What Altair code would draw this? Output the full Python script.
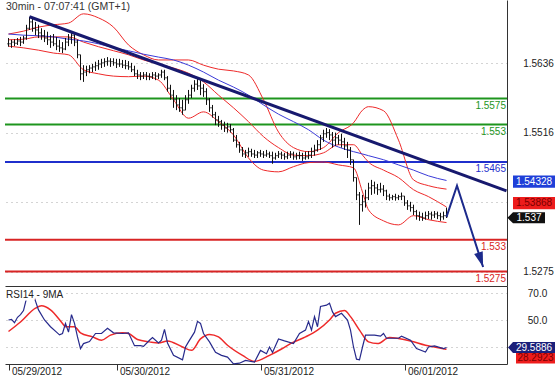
import altair as alt
import pandas as pd

# ---------------- price bars (30 min, bar index) ----------------
highs = [1.5680, 1.5677, 1.5678, 1.5680, 1.5682, 1.5684, 1.5703, 1.5717, 1.5713, 1.5708,
         1.5703, 1.5697, 1.5694, 1.5691, 1.5685, 1.5687, 1.5682, 1.5677, 1.5673, 1.5680,
         1.5687, 1.5692, 1.5689, 1.5677, 1.5651, 1.5633, 1.5632, 1.5633, 1.5635, 1.5639,
         1.5642, 1.5644, 1.5645, 1.5647, 1.5645, 1.5645, 1.5644, 1.5644, 1.5642, 1.5642,
         1.5640, 1.5637, 1.5632, 1.5625, 1.5621, 1.5621, 1.5621, 1.5619, 1.5621, 1.5621,
         1.5619, 1.5625, 1.5625, 1.5614, 1.5599, 1.5590, 1.5581, 1.5576, 1.5573, 1.5581,
         1.5590, 1.5599, 1.5607, 1.5611, 1.5607, 1.5600, 1.5593, 1.5576, 1.5564, 1.5552,
         1.5545, 1.5538, 1.5535, 1.5533, 1.5531, 1.5524, 1.5512, 1.5500, 1.5491, 1.5486,
         1.5490, 1.5488, 1.5486, 1.5484, 1.5486, 1.5484, 1.5486, 1.5483, 1.5483, 1.5481,
         1.5484, 1.5483, 1.5481, 1.5483, 1.5484, 1.5483, 1.5481, 1.5483, 1.5481, 1.5483,
         1.5484, 1.5490, 1.5495, 1.5503, 1.5512, 1.5521, 1.5524, 1.5522, 1.5517, 1.5516,
         1.5512, 1.5514, 1.5507, 1.5500, 1.5491, 1.5469, 1.5438, 1.5413, 1.5408, 1.5417,
         1.5429, 1.5434, 1.5431, 1.5427, 1.5429, 1.5425, 1.5417, 1.5410, 1.5408, 1.5410,
         1.5408, 1.5412, 1.5406, 1.5399, 1.5396, 1.5391, 1.5382, 1.5379, 1.5377, 1.5379,
         1.5380, 1.5379, 1.5380, 1.5379, 1.5377, 1.5379, 1.5386]
lows = [1.5665, 1.5663, 1.5666, 1.5668, 1.5666, 1.5670, 1.5677, 1.5694, 1.5691, 1.5685,
        1.5680, 1.5677, 1.5673, 1.5668, 1.5663, 1.5666, 1.5659, 1.5656, 1.5654, 1.5659,
        1.5666, 1.5670, 1.5666, 1.5645, 1.5607, 1.5604, 1.5614, 1.5619, 1.5621, 1.5623,
        1.5625, 1.5628, 1.5630, 1.5632, 1.5630, 1.5632, 1.5628, 1.5630, 1.5628, 1.5626,
        1.5625, 1.5621, 1.5614, 1.5609, 1.5607, 1.5609, 1.5607, 1.5607, 1.5609, 1.5607,
        1.5609, 1.5611, 1.5607, 1.5587, 1.5573, 1.5559, 1.5555, 1.5552, 1.5547, 1.5555,
        1.5566, 1.5576, 1.5587, 1.5590, 1.5581, 1.5578, 1.5564, 1.5552, 1.5542, 1.5529,
        1.5526, 1.5521, 1.5517, 1.5516, 1.5516, 1.5500, 1.5490, 1.5481, 1.5474, 1.5472,
        1.5474, 1.5474, 1.5472, 1.5472, 1.5474, 1.5472, 1.5474, 1.5472, 1.5462, 1.5469,
        1.5472, 1.5470, 1.5469, 1.5470, 1.5472, 1.5469, 1.5469, 1.5470, 1.5467, 1.5469,
        1.5470, 1.5472, 1.5476, 1.5483, 1.5486, 1.5500, 1.5507, 1.5503, 1.5490, 1.5493,
        1.5495, 1.5490, 1.5486, 1.5472, 1.5460, 1.5431, 1.5399, 1.5356, 1.5379, 1.5386,
        1.5399, 1.5408, 1.5410, 1.5408, 1.5412, 1.5406, 1.5399, 1.5398, 1.5399, 1.5398,
        1.5399, 1.5399, 1.5389, 1.5382, 1.5379, 1.5373, 1.5365, 1.5363, 1.5363, 1.5365,
        1.5366, 1.5365, 1.5368, 1.5366, 1.5363, 1.5365, 1.5368]
closes = [1.5670, 1.5673, 1.5671, 1.5675, 1.5673, 1.5680, 1.5697, 1.5708, 1.5697, 1.5694,
          1.5689, 1.5684, 1.5680, 1.5677, 1.5673, 1.5670, 1.5666, 1.5663, 1.5661, 1.5673,
          1.5680, 1.5685, 1.5673, 1.5651, 1.5618, 1.5621, 1.5625, 1.5628, 1.5630, 1.5632,
          1.5635, 1.5637, 1.5639, 1.5640, 1.5639, 1.5637, 1.5635, 1.5635, 1.5633, 1.5632,
          1.5630, 1.5625, 1.5618, 1.5616, 1.5614, 1.5616, 1.5614, 1.5613, 1.5616, 1.5614,
          1.5616, 1.5621, 1.5611, 1.5593, 1.5581, 1.5573, 1.5564, 1.5559, 1.5555, 1.5573,
          1.5581, 1.5593, 1.5600, 1.5597, 1.5593, 1.5587, 1.5573, 1.5559, 1.5547, 1.5538,
          1.5535, 1.5529, 1.5524, 1.5526, 1.5521, 1.5503, 1.5495, 1.5486, 1.5479, 1.5481,
          1.5483, 1.5479, 1.5477, 1.5481, 1.5479, 1.5477, 1.5479, 1.5476, 1.5472, 1.5476,
          1.5479, 1.5477, 1.5474, 1.5477, 1.5479, 1.5474, 1.5476, 1.5476, 1.5472, 1.5474,
          1.5477, 1.5483, 1.5486, 1.5495, 1.5507, 1.5514, 1.5516, 1.5512, 1.5503, 1.5507,
          1.5503, 1.5500, 1.5493, 1.5486, 1.5469, 1.5438, 1.5408, 1.5391, 1.5396, 1.5403,
          1.5420, 1.5424, 1.5420, 1.5417, 1.5418, 1.5415, 1.5406, 1.5403, 1.5405, 1.5403,
          1.5405, 1.5406, 1.5394, 1.5389, 1.5386, 1.5379, 1.5372, 1.5370, 1.5368, 1.5372,
          1.5375, 1.5373, 1.5375, 1.5372, 1.5370, 1.5372, 1.5370]

# ---------------- indicators on the price panel ----------------
band_idx = [0, 5, 10, 15, 20, 25, 30, 35, 40, 45, 50, 55, 60, 65, 70, 75, 80, 85, 90, 95,
            100, 105, 110, 115, 118, 120, 125, 130, 135, 140, 146]
bb_upper = [1.5687, 1.5692, 1.5699, 1.5703, 1.5706, 1.5722, 1.5715, 1.5699, 1.5668, 1.5651,
            1.5642, 1.5642, 1.5642, 1.5633, 1.5626, 1.5623, 1.5616, 1.5573, 1.5517, 1.5490,
            1.5483, 1.5490, 1.5516, 1.5533, 1.5555, 1.5561, 1.5554, 1.5503, 1.5434, 1.5424,
            1.5418]
bb_middle = [1.5677, 1.5678, 1.5682, 1.5682, 1.5682, 1.5673, 1.5665, 1.5658, 1.5651, 1.5642,
             1.5635, 1.5628, 1.5619, 1.5604, 1.5581, 1.5559, 1.5535, 1.5509, 1.5490, 1.5477,
             1.5476, 1.5481, 1.5495, 1.5495, 1.5477, 1.5465, 1.5451, 1.5438, 1.5417, 1.5405,
             1.5387]
bb_lower = [1.5666, 1.5663, 1.5659, 1.5654, 1.5651, 1.5625, 1.5618, 1.5614, 1.5613, 1.5614,
            1.5607, 1.5573, 1.5541, 1.5552, 1.5535, 1.5512, 1.5472, 1.5451, 1.5448, 1.5457,
            1.5464, 1.5465, 1.5460, 1.5455, 1.5413, 1.5382, 1.5363, 1.5356, 1.5372, 1.5365,
            1.5360]
ma_blue = [1.5687, 1.5685, 1.5684, 1.5682, 1.5678, 1.5675, 1.5670, 1.5663, 1.5658, 1.5652,
           1.5647, 1.5642, 1.5633, 1.5621, 1.5607, 1.5595, 1.5581, 1.5564, 1.5548, 1.5535,
           1.5521, 1.5503, 1.5491, 1.5483, 1.5479, 1.5476, 1.5469, 1.5460, 1.5451, 1.5441,
           1.5433]

level_values = [1.5575, 1.5530, 1.5465, 1.5330, 1.5275]
level_labels = ["1.5575", "1.553", "1.5465", "1.533", "1.5275"]
level_colors = ["#1e951e", "#1e951e", "#1f2fcc", "#d82424", "#d82424"]

trend_idx = [7, 166]
trend_val = [1.5717, 1.5415]

arrow_idx = [146, 149.5, 158.2]
arrow_val = [1.5370, 1.5424, 1.5283]

price_ticks = [1.5636, 1.5516, 1.5396, 1.5275]
price_hidden_tick = 1.5396   # label covered by the red tag in the reference

# ---------------- RSI panel ----------------
rsi_idx = [0, 1, 2, 3, 4, 5, 6, 7, 8, 9, 10, 12, 14, 16, 17, 18, 19, 20, 21, 22,
           23, 24, 25, 27, 29, 31, 33, 35, 38, 40, 42, 44, 45, 47, 48, 50, 51, 52, 53, 55,
           58, 59, 60, 62, 63, 64, 65, 67, 69, 71, 73, 75, 77, 79, 82, 84, 86, 87, 88, 90,
           92, 95, 97, 99, 100, 101, 102, 103, 104, 106, 107, 108, 109, 111, 113, 114, 115,
           116, 117, 118, 119, 122, 124, 125, 126, 130, 131, 134, 136, 139, 140, 142, 145, 146]
rsi_val = [50, 50.5, 48, 52, 54, 57, 66, 72, 71, 64, 57.5, 50, 45, 41, 39, 40, 47.5, 41, 54, 47.5,
           37.5, 28.8, 32.5, 34, 40, 40, 43.8, 40.5, 40, 40.5, 31, 31, 30.5, 35, 37, 33, 35, 43, 33, 23.8,
           20.5, 30, 33.8, 41, 49, 47.5, 40, 33.8, 26, 23.8, 22.5, 17.5, 18, 20, 18.8, 27.5, 25, 30, 26, 36,
           34.5, 32.5, 40, 42.5, 48.8, 42.5, 52.5, 45, 60, 61, 62.5, 56, 52.5, 55, 50, 42.5, 30,
           21, 20.5, 30, 38.8, 38.8, 38, 40, 36.5, 36.5, 38, 35, 28.8, 26.3, 30, 30.8, 28.8, 29.6]
rsi_ma_idx = [0, 4, 9, 11, 14, 18, 19, 22, 24, 28, 31, 34, 38, 40, 43, 47, 50, 53, 58, 61,
              64, 67, 70, 73, 78, 82, 87, 91, 94, 99, 103, 107, 109, 112, 114, 117, 120, 123,
              127, 130, 134, 139, 142, 146]
rsi_ma_val = [41.5, 48.5, 58.8, 60.5, 57.5, 47.5, 45, 45, 40.5, 37.5, 35, 38.8, 40.5, 40, 35.5,
              33.8, 33, 34.5, 30, 27.5, 36, 39.3, 37.5, 31.3, 23.8, 19.3, 23.8, 28.5, 32.5, 37.5,
              42.5, 50, 55, 57, 52.5, 42.5, 33.8, 32.5, 37, 36.3, 34.5, 31.3, 30, 28.3]
rsi_ticks = [70, 50, 30]
rsi_hidden_tick = 30          # label covered by the RSI tag in the reference

date_ticks = [0, 36, 84, 132]
date_labels = ["05/29/2012", "05/30/2012", "05/31/2012", "06/01/2012"]

FONT = "Liberation Sans"
W, H1, H2 = 502, 286, 78

# ---------------- tables ----------------
opens = [closes[0]] + closes[:-1]
bars = pd.DataFrame({"i": list(range(len(closes))), "high": highs, "low": lows,
                     "open": opens, "close": closes})
bands = pd.concat([
    pd.DataFrame({"i": band_idx, "v": bb_upper, "band": "upper"}),
    pd.DataFrame({"i": band_idx, "v": bb_middle, "band": "middle"}),
    pd.DataFrame({"i": band_idx, "v": bb_lower, "band": "lower"}),
], ignore_index=True)
ma = pd.DataFrame({"i": band_idx, "v": ma_blue})
levels = pd.DataFrame({"v": level_values, "label": level_labels, "c": level_colors})
trend = pd.DataFrame({"i": trend_idx, "v": trend_val})
arrow = pd.DataFrame({"i": arrow_idx, "v": arrow_val})
tip = arrow.tail(1)
rsi = pd.DataFrame({"i": rsi_idx, "v": rsi_val})
rsi_ma = pd.DataFrame({"i": rsi_ma_idx, "v": rsi_ma_val})

# ---------------- scales & axes ----------------
XS = alt.Scale(domain=[-7 / 6, 166 + 1 / 6], nice=False, zero=False)
PS = alt.Scale(domain=[1.5250, 1.5746], nice=False, zero=False)
RS = alt.Scale(domain=[17.4, 75.2], nice=False, zero=False)

main_x_axis = alt.Axis(orient="bottom", labels=False, ticks=False, grid=False,
                       domain=True, domainColor="#333333", title=None)
main_y_axis = alt.Axis(orient="right", values=price_ticks, grid=True,
                       labelExpr=f"datum.value == {price_hidden_tick} ? '' : format(datum.value, '.4f')",
                       gridDash=[1, 4], gridColor="#a8a8a8", ticks=False, tickSize=0,
                       labelPadding=31, labelAlign="center", labelBaseline="middle",
                       domain=True, domainColor="#333333", title=None,
                       labelFlush=False, labelOverlap=False, labelBound=False)

expr = "''"
for v, lab in zip(reversed(date_ticks), reversed(date_labels)):
    expr = f"datum.value == {v} ? '{lab}' : ({expr})"

rsi_x_axis = alt.Axis(orient="bottom", values=date_ticks, labelExpr=expr, tickSize=6,
                      tickColor="#333333", domainColor="#333333", labelAlign="left",
                      labelBaseline="top", labelOffset=3, labelPadding=-4, grid=False,
                      title=None, labelFlush=False, labelOverlap=False, labelBound=False)
rsi_y_axis = alt.Axis(orient="right", values=rsi_ticks, grid=True,
                      labelExpr=f"datum.value == {rsi_hidden_tick} ? '' : format(datum.value, '.1f')",
                      gridDash=[1, 4], gridColor="#a8a8a8", ticks=False, tickSize=0,
                      labelPadding=30, labelAlign="center", labelBaseline="middle",
                      domain=True, domainColor="#333333", title=None,
                      labelFlush=False, labelOverlap=False, labelBound=False)


def mx(f):
    return alt.X(f, type="quantitative", scale=XS, axis=main_x_axis)


def my(f):
    return alt.Y(f, type="quantitative", scale=PS, axis=main_y_axis)


def rx(f):
    return alt.X(f, type="quantitative", scale=XS, axis=rsi_x_axis)


def ry(f):
    return alt.Y(f, type="quantitative", scale=RS, axis=rsi_y_axis)


def tag_layer(value, text, yenc, shape, size, fill, tcolor, cx, dy):
    df = pd.DataFrame({"v": [value], "t": [text]})
    box = alt.Chart(df).mark_point(shape=shape, size=size, filled=True, fill=fill,
                                   opacity=1, strokeWidth=0, yOffset=dy).encode(
        x=alt.value(cx), y=yenc("v"))
    txt = alt.Chart(df).mark_text(font=FONT, fontSize=10, color=tcolor, align="center",
                                  baseline="middle", yOffset=dy).encode(
        x=alt.value(cx), y=yenc("v"), text="t")
    return [box, txt]


BOX = "M-1,-0.29 L1,-0.29 L1,0.29 L-1,0.29 Z"

# ---------------- main (price) panel ----------------
level_rules = alt.Chart(levels).mark_rule(strokeWidth=2).encode(
    y=my("v"), color=alt.Color("c:N", scale=None))
band_lines = alt.Chart(bands).mark_line(color="#ee2a2a", strokeWidth=1,
                                        interpolate="monotone").encode(
    x=mx("i"), y=my("v"), detail="band:N")
ma_line = alt.Chart(ma).mark_line(color="#3b3bd8", strokeWidth=1,
                                  interpolate="monotone").encode(x=mx("i"), y=my("v"))
bar_hl = alt.Chart(bars).mark_rule(color="#111111", strokeWidth=1).encode(
    x=mx("i"), y=my("low"), y2=alt.Y2("high"))
bar_open = alt.Chart(bars).transform_calculate(xo="datum.i - 0.4").mark_rule(
    color="#111111", strokeWidth=1).encode(x=mx("xo"), x2=alt.X2("i"), y=my("open"))
bar_close = alt.Chart(bars).transform_calculate(xc="datum.i + 0.4").mark_rule(
    color="#111111", strokeWidth=1).encode(x=mx("i"), x2=alt.X2("xc"), y=my("close"))
trend_line = alt.Chart(trend).mark_line(color="#17196e", strokeWidth=3).encode(
    x=mx("i"), y=my("v"))
arrow_line = alt.Chart(arrow).mark_line(color="#1c2a8c", strokeWidth=2).encode(
    x=mx("i"), y=my("v"))
arrow_head = alt.Chart(tip).mark_point(shape="M-0.6,-2 L0.6,-2 L0,0 Z", size=225,
                                       angle=342, filled=True, fill="#1c2a8c",
                                       opacity=1, strokeWidth=0).encode(
    x=mx("i"), y=my("v"))
level_text = alt.Chart(levels).mark_text(font=FONT, fontSize=10, align="right",
                                         baseline="top", dy=2).encode(
    x=alt.value(501), y=my("v"), text="label", color=alt.Color("c:N", scale=None))
title_df = pd.DataFrame({"t": ["30min - 07:07:41 (GMT+1)"]})
main_title = alt.Chart(title_df).mark_text(font=FONT, fontSize=10.5, align="left",
                                           baseline="top", color="#333333").encode(
    x=alt.value(1), y=alt.value(2), text="t")

main_layers = [level_rules, band_lines, ma_line, bar_hl, bar_open, bar_close,
               trend_line, arrow_line, arrow_head, level_text, main_title]
main_layers += tag_layer(1.54328, "1.54328", my, BOX, 1764, "#1f3fd8", "white", 529, 1)
main_layers += tag_layer(1.53868, "1.53868", my, BOX, 1764, "#ee1c1c", "#7a0000", 529, -4)
main_layers += tag_layer(1.537, "1.537", my,
                         "M-1.35,0 L-1,-0.34 L1,-0.34 L1,0.34 L-1,0.34 Z",
                         1024, "#111111", "white", 524, 1)
main = alt.layer(*main_layers).properties(width=W, height=H1)

# ---------------- RSI panel ----------------
rsi_line = alt.Chart(rsi).mark_line(color="#272a8c", strokeWidth=1.2).encode(
    x=rx("i"), y=ry("v"))
rsi_ma_line = alt.Chart(rsi_ma).mark_line(color="#ee2a2a", strokeWidth=1.5,
                                          interpolate="monotone").encode(
    x=rx("i"), y=ry("v"))
rsi_title_df = pd.DataFrame({"t": ["RSI14 - 9MA"]})
rsi_title_halo = alt.Chart(rsi_title_df).mark_text(font=FONT, fontSize=10, align="left",
                                                   baseline="top", color="white",
                                                   stroke="white", strokeWidth=5,
                                                   strokeJoin="round").encode(
    x=alt.value(1), y=alt.value(4), text="t")
rsi_title = alt.Chart(rsi_title_df).mark_text(font=FONT, fontSize=10, align="left",
                                              baseline="top", color="#222222").encode(
    x=alt.value(1), y=alt.value(4), text="t")

rsi_layers = [rsi_ma_line, rsi_line, rsi_title_halo, rsi_title]
rsi_layers += tag_layer(29.5886, "29.5886", ry,
                        "M-1.24,0 L-1,-0.26 L1,-0.26 L1,0.26 L-1,0.26 Z",
                        1764, "#1b1f7a", "white", 529, 0)
rsi_layers += tag_layer(28.2923, "28.2923", ry, "M-1,-0.27 L1,-0.27 L1,0.27 L-1,0.27 Z",
                        1521, "#ee1c1c", "#7a0000", 530.5, 9)
rsi_panel = alt.layer(*rsi_layers).properties(width=W, height=H2)

chart = alt.vconcat(main, rsi_panel, spacing=0).properties(
    padding={"left": 4, "top": 0, "right": 0, "bottom": 0},
    background="white",
).configure_view(stroke=None).configure_axis(
    labelFont=FONT, labelFontSize=10, labelColor="#222222")

chart.save("out.html", embed_options={"renderer": "svg", "actions": False})
